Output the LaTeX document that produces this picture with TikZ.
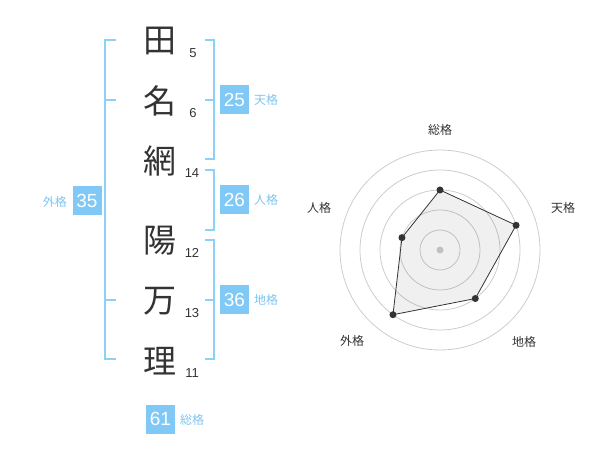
\documentclass[tikz,border=0pt]{standalone}
\usepackage{fontspec}
\usetikzlibrary{calc}
\setmainfont{Liberation Sans}
\newfontfamily\cjk{Noto Sans CJK JP}
\definecolor{bline}{HTML}{8DD0F9}
\definecolor{bbox}{HTML}{80C9F7}
\definecolor{btext}{HTML}{7DC5F2}
\definecolor{ink}{HTML}{333333}
\definecolor{ring}{HTML}{CCCCCC}
\tikzset{
  kanji/.style={font=\cjk\fontsize{33}{33}\selectfont, text=ink, inner sep=0pt},
  stroke/.style={font=\fontsize{13}{13}\selectfont, text=ink, inner sep=0pt},
  brk/.style={draw=bline, line width=2pt},
  valbox/.style={fill=bbox, text=white, minimum width=29pt, minimum height=29pt, inner sep=0pt, font=\fontsize{19}{19}\selectfont},
  kaku/.style={text=btext, font=\cjk\fontsize{12}{12}\selectfont, inner sep=0pt},
  axlab/.style={text=ink, font=\cjk\fontsize{12}{12}\selectfont, inner sep=0pt},
  ringc/.style={draw=ring, line width=0.8pt},
  dot/.style={circle, fill=ink, inner sep=0pt, minimum size=7pt},
}
\begin{document}
\begin{tikzpicture}[x=1pt,y=-1pt]
\useasboundingbox (0,0) rectangle (600,470);
% characters
\node[kanji] (c1) at (160,41) {田};
\node[kanji] (c2) at (160,101) {名};
\node[kanji] (c3) at (160,161) {網};
\node[kanji] (c4) at (160,241) {陽};
\node[kanji] (c5) at (160,301) {万};
\node[kanji] (c6) at (160,361) {理};
\node[stroke] (n1) at (193,53) {5};
\node[stroke] (n2) at (193,113) {6};
\node[stroke] (n3) at (192,173) {14};
\node[stroke] (n4) at (192,253) {12};
\node[stroke] (n5) at (192,313) {13};
\node[stroke] (n6) at (192,373) {11};
% brackets
\draw[brk] (116,40) -- (105,40) -- (105,359) -- (116,359);
\draw[brk] (105,100) -- (116,100);
\draw[brk] (105,300) -- (116,300);
\draw[brk] (205,40) -- (214,40) -- (214,159) -- (205,159);
\draw[brk] (214,100) -- (205,100);
\draw[brk] (205,170) -- (214,170) -- (214,230) -- (205,230);
\draw[brk] (205,240) -- (214,240) -- (214,359) -- (205,359);
\draw[brk] (214,300) -- (205,300);
% value boxes
\node[valbox] (ten) at (234.5,100) {25};
\node[kaku, anchor=west] (tenl) at (254,100) {天格};
\node[valbox] (jin) at (234.5,200) {26};
\node[kaku, anchor=west] (jinl) at (254,200) {人格};
\node[valbox] (chi) at (234.5,300) {36};
\node[kaku, anchor=west] (chil) at (254,300) {地格};
\node[valbox] (gai) at (87,201) {35};
\node[kaku, anchor=east] (gail) at (67,202) {外格};
\node[valbox] (so) at (160.5,419) {61};
\node[kaku, anchor=west] (sol) at (180,420) {総格};
% radar
\coordinate (O) at (440,250);
\foreach \r in {20,40,60,80,100} \draw[ringc] (O) circle[radius=\r];
\fill[ring] (O) circle[radius=3.5];
\coordinate (p1) at ($(O)+(-90:60)$);
\coordinate (p2) at ($(O)+(-18:80)$);
\coordinate (p3) at ($(O)+(54:60)$);
\coordinate (p4) at ($(O)+(126:80)$);
\coordinate (p5) at ($(O)+(198:40)$);
\filldraw[fill=black, fill opacity=0.06, draw=ink, line width=0.8pt] (p1) -- (p2) -- (p3) -- (p4) -- (p5) -- cycle;
\foreach \p in {p1,p2,p3,p4,p5} \node[dot] at (\p) {};
\node[axlab] (a1) at (440,130) {総格};
\node[axlab] (a2) at (563,208) {天格};
\node[axlab] (a3) at (524,342) {地格};
\node[axlab] (a4) at (352,341) {外格};
\node[axlab] (a5) at (319,208) {人格};
\end{tikzpicture}
\end{document}
